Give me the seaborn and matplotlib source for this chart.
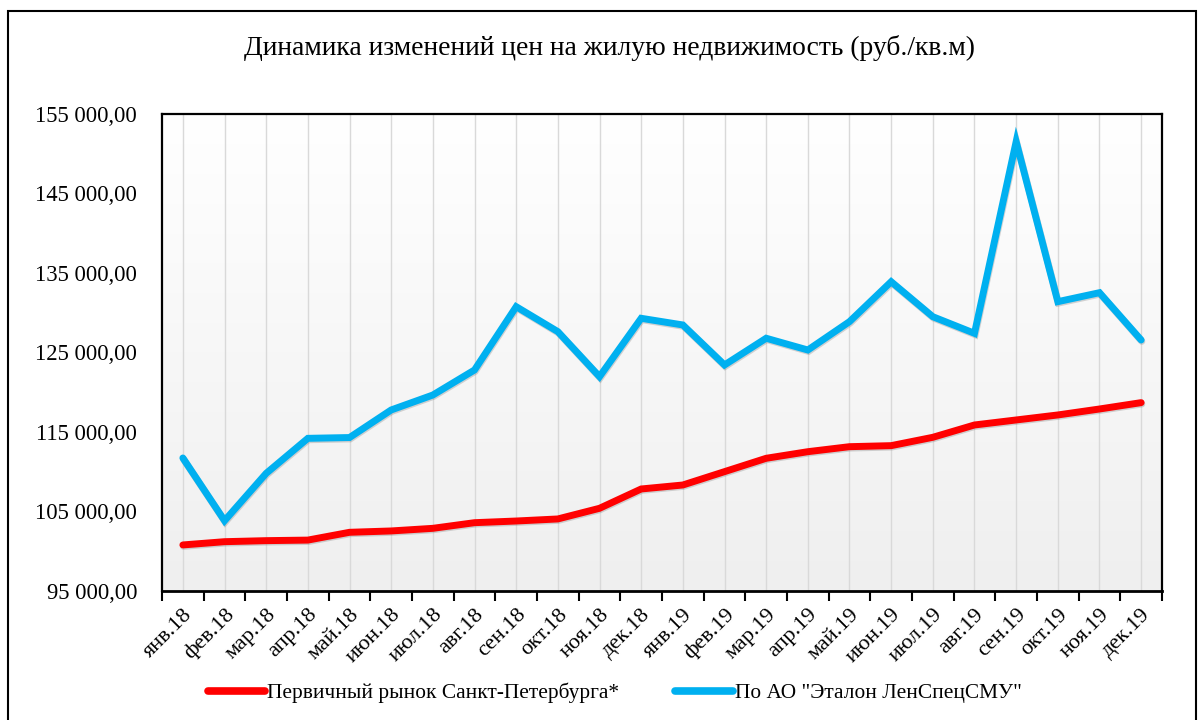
import seaborn as sns
import matplotlib.pyplot as plt
import matplotlib.patheffects as pe
from matplotlib.colors import LinearSegmentedColormap
from matplotlib.ticker import FuncFormatter, FixedLocator
from matplotlib.patches import Rectangle
import numpy as np
import pandas as pd

months = ['янв.18', 'фев.18', 'мар.18', 'апр.18', 'май.18', 'июн.18',
          'июл.18', 'авг.18', 'сен.18', 'окт.18', 'ноя.18', 'дек.18',
          'янв.19', 'фев.19', 'мар.19', 'апр.19', 'май.19', 'июн.19',
          'июл.19', 'авг.19', 'сен.19', 'окт.19', 'ноя.19', 'дек.19']

spb_primary = [100790, 101200, 101330, 101400, 102380, 102550,
               102880, 103590, 103800, 104060, 105400, 107830,
               108330, 110010, 111690, 112520, 113150, 113280,
               114330, 115880, 116510, 117140, 117890, 118690]

etalon = [111730, 103840, 109800, 114200, 114300, 117770,
          119650, 122800, 130760, 127620, 121960, 129300,
          128460, 123430, 126790, 125310, 128880, 133900,
          129500, 127410, 151520, 131390, 132520, 126570]

name_spb = 'Первичный рынок Санкт-Петербурга*'
name_etalon = 'По АО "Эталон ЛенСпецСМУ"'

df = pd.DataFrame({
    'month': months * 2,
    'price': spb_primary + etalon,
    'series': [name_spb] * len(months) + [name_etalon] * len(months),
})

sns.set_style('white')
plt.rcParams['font.family'] = ['Liberation Serif', 'DejaVu Serif']
plt.rcParams['text.color'] = 'black'
plt.rcParams['xtick.color'] = 'black'
plt.rcParams['ytick.color'] = 'black'

fig = plt.figure(figsize=(12.03, 7.2), dpi=100)
ax = fig.add_axes([0.1347, 0.1792, 0.8312, 0.6625])

# gradient background, white at top to light grey at bottom
grad = np.linspace(1, 0, 256).reshape(-1, 1)
ax.imshow(grad, extent=[0, 1, 0, 1], transform=ax.transAxes, aspect='auto',
          cmap=LinearSegmentedColormap.from_list('bg', ['#efefef', '#ffffff']),
          zorder=0)

shadow = [pe.SimpleLineShadow(offset=(0.5, -1), shadow_color='#888888', alpha=0.35),
          pe.Normal()]
sns.lineplot(data=df, x='month', y='price', hue='series',
             palette={name_spb: '#ff0000', name_etalon: '#00b0f0'},
             linewidth=5, ax=ax, sort=False, zorder=3,
             path_effects=shadow)
for ln in ax.get_lines():
    ln.set_solid_capstyle('round')
    ln.set_solid_joinstyle('miter')

ax.set_xlim(-0.5, len(months) - 0.5)
ax.set_ylim(95000, 155000)
ax.set_yticks(np.arange(95000, 155001, 10000))
ax.yaxis.set_major_formatter(FuncFormatter(
    lambda v, p: f'{v:,.2f}'.replace(',', ' ').replace('.', ',')))

# vertical grid at category centers
for i in range(len(months)):
    ax.axvline(i, color='#d9d9d9', linewidth=1, zorder=1)

ax.set_xticks(range(len(months)))
ax.set_xticklabels(months, rotation=45, ha='right', rotation_mode='anchor')
ax.xaxis.set_minor_locator(FixedLocator(np.arange(-0.5, len(months), 1)))
ax.tick_params(axis='x', which='major', length=0, pad=10, labelsize=16)
ax.tick_params(axis='x', which='minor', length=7, width=1.5, color='black',
               direction='out', bottom=True)
ax.tick_params(axis='y', length=0, pad=18, labelsize=16.3)

for sp in ax.spines.values():
    sp.set_color('black')
    sp.set_linewidth(1.6)
ax.spines['bottom'].set_linewidth(2)

ax.set_xlabel('')
ax.set_ylabel('')

leg = ax.legend(loc='center', bbox_to_anchor=(0.511, 0.0375),
                bbox_transform=fig.transFigure, ncol=2, frameon=False,
                fontsize=15.4, handlelength=2.7, handletextpad=0.1,
                columnspacing=2.6, borderpad=0)
for h in leg.get_lines():
    h.set_linewidth(5.5)
    h.set_solid_capstyle('round')
    h.set_path_effects([])
for t in leg.get_texts():
    t.set_color('black')

fig.text(0.507, 0.933, 'Динамика изменений цен на жилую недвижимость (руб./кв.м)',
         ha='center', va='center', fontsize=19.9, color='black')

fig.patches.append(Rectangle((8 / 1203, -0.05), 1188 / 1203, 1.05 - 11 / 720,
                             transform=fig.transFigure, fill=False,
                             edgecolor='black', linewidth=1.5))

fig.savefig('out.png', dpi=100)
